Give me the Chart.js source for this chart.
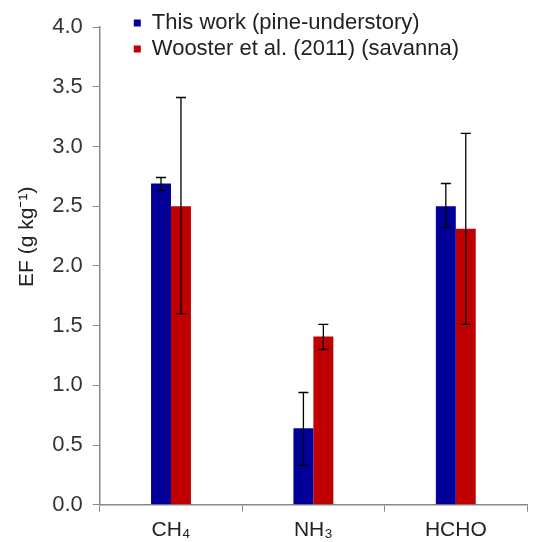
<!DOCTYPE html>
<html>
<head>
<meta charset="utf-8">
<script src="https://cdn.jsdelivr.net/npm/chart.js@4/dist/chart.umd.min.js"></script>
<style>
  html, body { margin: 0; padding: 0; background: #fff; }
  #wrap { width: 533px; height: 542px; }
</style>
</head>
<body>
<div id="wrap"><canvas id="efChart"></canvas></div>
<script>
// Gassen op de x-as
const species = ["CH\u2084", "NH\u2083", "HCHO"];

// Deze studie (pine-understory)
const thisWork = [2.69, 0.64, 2.5];
const thisWorkLow = [2.63, 0.33, 2.32];
const thisWorkHigh = [2.74, 0.94, 2.69];

// Wooster et al. (2011) (savanna)
const wooster = [2.5, 1.41, 2.31];
const woosterLow = [1.6, 1.3, 1.51];
const woosterHigh = [3.41, 1.51, 3.11];

// y-as ticks
const yTicks = [0, 0.5, 1, 1.5, 2, 2.5, 3, 3.5, 4];

const errorRanges = [
  { low: thisWorkLow, high: thisWorkHigh },
  { low: woosterLow, high: woosterHigh }
];

// Foutbalken tekenen via de y-schaal
const errorBars = {
  id: "errorBars",
  afterDatasetsDraw(chart) {
    const ctx = chart.ctx;
    const y = chart.scales.y;
    ctx.save();
    ctx.strokeStyle = "#000";
    ctx.lineWidth = 1.3;
    chart.data.datasets.forEach((ds, i) => {
      const meta = chart.getDatasetMeta(i);
      meta.data.forEach((bar, j) => {
        const yLow = y.getPixelForValue(errorRanges[i].low[j]);
        const yHigh = y.getPixelForValue(errorRanges[i].high[j]);
        ctx.beginPath();
        ctx.moveTo(bar.x, yLow);
        ctx.lineTo(bar.x, yHigh);
        ctx.moveTo(bar.x - 5, yLow);
        ctx.lineTo(bar.x + 5, yLow);
        ctx.moveTo(bar.x - 5, yHigh);
        ctx.lineTo(bar.x + 5, yHigh);
        ctx.stroke();
      });
    });
    ctx.restore();
  }
};

// Legenda iets verschuiven (staat in het plotvlak)
const moveLegend = {
  id: "moveLegend",
  afterLayout(chart) {
    chart.legend.left += 30;
    chart.legend.top += 8;
  }
};

Chart.defaults.font.family = "'Liberation Sans', Arial, sans-serif";
Chart.defaults.color = "#222";

new Chart(document.getElementById("efChart"), {
  type: "bar",
  data: {
    labels: species,
    datasets: [
      {
        label: "This work (pine-understory)",
        data: thisWork,
        backgroundColor: "#000099"
      },
      {
        label: "Wooster et al. (2011) (savanna)",
        data: wooster,
        backgroundColor: "#C00000"
      }
    ]
  },
  options: {
    responsive: true,
    maintainAspectRatio: false,
    animation: false,
    layout: { padding: { top: 27, right: 6, bottom: -7, left: 15 } },
    datasets: {
      bar: { categoryPercentage: 0.28, barPercentage: 1.0 }
    },
    scales: {
      x: {
        grid: { drawOnChartArea: false, tickLength: 7, color: "#888" },
        border: { color: "#888", width: 1.5 },
        ticks: { font: { size: 21 }, color: "#222", padding: 6 }
      },
      y: {
        min: 0,
        max: 4,
        afterBuildTicks(axis) {
          axis.ticks = yTicks.map(v => ({ value: v }));
        },
        grid: { drawOnChartArea: false, tickLength: 7, color: "#888" },
        border: { color: "#888", width: 1.5 },
        ticks: {
          font: { size: 22 },
          color: "#333",
          padding: 10,
          callback: v => Number(v).toFixed(1)
        },
        title: {
          display: true,
          text: "          EF (g kg\u207B\u00B9)",
          font: { size: 21 },
          color: "#222",
          padding: { top: 0, bottom: 2 }
        }
      }
    },
    plugins: {
      legend: {
        position: "chartArea",
        align: "start",
        labels: {
          boxWidth: 7,
          boxHeight: 7,
          padding: 4,
          font: { size: 22 },
          color: "#222"
        }
      },
      tooltip: { enabled: false }
    }
  },
  plugins: [errorBars, moveLegend]
});
</script>
</body>
</html>
